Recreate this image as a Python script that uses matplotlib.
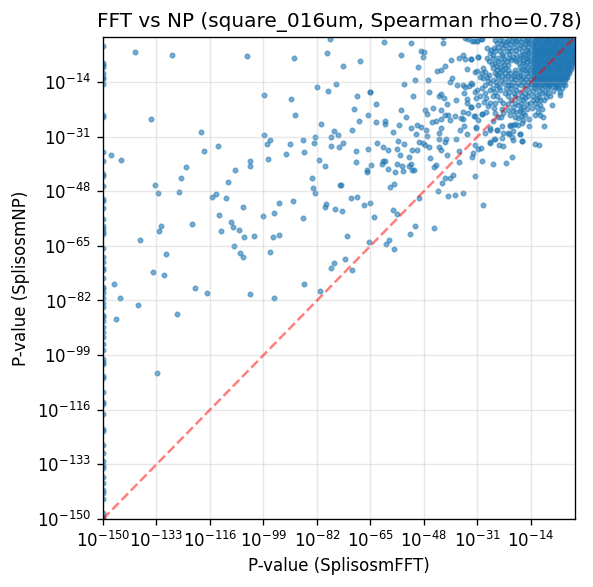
import matplotlib
matplotlib.use("Agg")
import matplotlib.pyplot as plt
from matplotlib.ticker import NullLocator

title = "FFT vs NP (square_016um, Spearman rho=0.78)"
x_label = "P-value (SplisosmFFT)"
y_label = "P-value (SplisosmNP)"
tick_exponents = [-150, -133, -116, -99, -82, -65, -48, -31, -14]
floor_exponent = -150

# Genes with FFT p-value at the floor: log10 NP p-values
floor_np = [-2.9,-8.2,-8.8,-9.4,-11.3,-12.5,-13.2,-14.7,-24.4,-25,-35.9,-38.7,-42.7,-43.3,-46.5,-50.5,-51.1,-53.3,
    -56.7,-58.9,-59.8,-60.8,-61.4,-65.7,-68.5,-70.1,-72,-72.6,-75.1,-77.9,-78.5,-79.8,-81.3,-82.9,-84.1,-86.6,-87.2,
    -88.5,-90.1,-91.9,-93.5,-95.6,-97.5,-100.3,-101.2,-101.9,-105.6,-106.2,-110.6,-113.7,-114.3,-117.4,-122.1,-122.7,
    -127.1,-129.6,-132,-133.3,-134.2,-137,-138.9,-141,-142,-143.9,-148.2,-149.5,-150]

# (log10 FFT p, log10 NP p) - sparse part of the cloud
sparse_left = [(-139.7,-4.8),(-128,-5.7),(-104.1,-6),(-89.2,-6.6),(-77.8,-.7),(-78.7,-5.1),(-81.9,-15.6),(-78.4,-16.9),
    (-75.8,-14.7),(-98.7,-18.1),(-90.1,-19.4),(-88.9,-24.4),(-134.6,-25.6),(-80.6,-27.2),(-76.5,-29.3),(-118.7,-29.6),
    (-98.7,-30.6),(-75.3,-30.6),(-77.4,-31.2),(-82.5,-31.2),(-96.8,-32.1),(-86.3,-32.1),(-97.8,-33.4),(-90.5,-33.4),
    (-82.8,-33.1),(-113.3,-34),(-77.4,-34),(-74.9,-34.3),(-117.8,-35.6),(-86,-35.9),(-92,-36.5),(-147.4,-36.8),
    (-144.2,-38.4),(-97.5,-38),(-81.2,-38.4),(-103.2,-38.7),(-103.2,-40),(-79.3,-40.2),(-123.5,-40.5),(-108,-41.5),
    (-125.1,-44),(-83.5,-44),(-110.2,-45.2),(-133.4,-46.1),(-83.2,-47.1),(-74.7,-46.1),(-132.4,-48.6),(-125.7,-48.3),
    (-82.5,-48.6),(-114,-49),(-115.3,-49.9),(-110.8,-50.2),(-89.5,-51.1),(-94,-51.7),(-79,-52),(-79.3,-53),(-105.4,-53),
    (-76.2,-53.6),(-95.6,-54.9),(-113,-55.5),(-99,-55.8),(-86.3,-56.4),(-109.2,-57.7),(-121.6,-58.3),(-131.5,-58.9),
    (-108.6,-59.2),(-106.7,-60.1),(-132.1,-60.4),(-112.4,-60.4),(-94,-61.7),(-101.9,-62),(-105.1,-62.3),(-95.9,-62.3),
    (-138.1,-63.3),(-108.3,-65.1),(-129.9,-67.6),(-106.4,-67.3),(-96.8,-67),(-105.4,-68.5),(-76.5,-70.4),(-77.4,-72),
    (-134,-73.2),(-130.5,-74.1),(-146.4,-77),(-120.7,-78.2),(-116.9,-79.8),(-86,-77),(-103.2,-80.1),(-144.5,-81.3),
    (-95.6,-81.3),(-80.9,-79.1),(-138.8,-83.5),(-126.4,-86.3),(-145.8,-87.9),(-132.7,-104.7)]

sparse_mid = [(-60.6,-1.6),(-52,-2),(-41.9,-.1),(-41.9,-2),(-34.9,-.4),(-33.9,-.7),(-32,-1.3),(-31.1,-1.3),(-29.8,-.7),
    (-55.2,-5.7),(-48.9,-4.4),(-47.9,-4.8),(-48.2,-6.3),(-68.2,-7.5),(-73.6,-9.1),(-49.8,-9.4),(-39.3,-7.2),(-36.8,-6.6),
    (-35.5,-5.7),(-34.9,-6.9),(-33,-6.9),(-30.7,-6.3),(-41.2,-9.1),(-42.5,-10.4),(-43.8,-10.7),(-34.2,-10),(-31.7,-11),
    (-50.8,-13.5),(-46.6,-13.5),(-54.3,-14.7),(-39,-12.8),(-39.6,-14.1),(-37.4,-15),(-35.5,-15),(-33.6,-15.3),(-32.6,-14.7),
    (-34.9,-15.6),(-35.2,-17.5),(-46.3,-17.2),(-65.1,-17),(-65.3,-17.2),(-69.2,-18.4),(-51.4,-18.4),(-43.1,-18.4),(-42.5,-17.8),
    (-41.5,-19.1),(-40.6,-21),(-37.7,-19.7),(-34.2,-19.4),(-34.2,-20.6),(-63.2,-21),(-70.1,-22.5),(-55.2,-22.8),(-47.6,-22.8),
    (-45,-22.2),(-42.5,-22.8),(-46.9,-24),(-65.7,-24.4),(-53.6,-25),(-41.2,-24.4),(-40.3,-24.4),(-38,-24.7),(-35.5,-23.4),
    (-33.9,-23.7),(-33,-21.9),(-32,-24.7),(-29.5,-24),(-68.6,-26.2),(-63.2,-26.5),(-60.3,-26.2),(-60.3,-27.2),(-55.8,-27.5),
    (-50.1,-27.5),(-48.9,-28.1),(-52,-28.4),(-45.4,-26.5),(-44.1,-26.2),(-42.5,-25.6),(-39.6,-25.9),(-36.1,-25.3),(-35.5,-25.6),
    (-70.8,-29),(-57.8,-29.6),(-47.3,-29),(-42.5,-28.4),(-43.1,-30),(-50.4,-30.3),(-46.9,-30.9),(-36.5,-29),(-35.2,-27.8),
    (-31.4,-28.1),(-34.2,-30.3),(-28.5,-30),(-43.1,-31.8),(-40.9,-31.8),(-41.2,-32.8),(-37.7,-31.8),(-56.2,-32.4),(-54.3,-33.4),
    (-62.8,-33.1),(-73.6,-33.1),(-49.5,-32.8),(-48.2,-33.1),(-47.6,-33.7),(-46.3,-34.3),(-43.1,-34.3),(-42.5,-35.2),(-60.9,-34.3),
    (-65.7,-34.9),(-69.5,-35.6),(-59.3,-35.2),(-56.5,-34.9),(-51.7,-35.2),(-50.1,-35.2),(-31.7,-33.7),(-29.8,-34.6),(-30.7,-34.9),
    (-36.8,-35.6),(-40.6,-36.8),(-32.3,-36.2),(-55.5,-36.8),(-52.7,-37.4),(-46,-37.7),(-32.6,-37.4),(-69.5,-39),(-60.9,-38.7),
    (-61.2,-39.6),(-60.3,-38.7),(-64.7,-39.9),(-56.5,-39.6),(-54.9,-40.2),(-52,-39.6),(-52.7,-40.2),(-36.8,-39),(-29.5,-38.7),
    (-26,-39.6),(-21.8,-39.3),(-19.9,-37.4),(-59.3,-41.2),(-57.1,-42.1),(-66,-41.5),(-66,-42.1),(-54.6,-41.8),(-51.7,-41.5),
    (-51.1,-41.5),(-44.1,-39.9),(-44.7,-40.5),(-38.7,-43),(-39.6,-44),(-41.2,-44),(-31.7,-43.3),(-42.2,-45.5),(-57.4,-45.8),
    (-58.7,-46.8),(-74.3,-46.1),(-43.5,-48),(-35.5,-48.6),(-38,-49.3),(-40.3,-49.6),(-69.2,-49.9),(-71.1,-50.2),(-49.5,-50.2),
    (-65.1,-51.7),(-67,-52.4),(-29.2,-52.4),(-57.8,-53.9),(-74,-54.2),(-56.5,-55.2),(-63.8,-56.1),(-50.8,-58.9),(-44.7,-59.5),
    (-52.4,-61.4),(-72.4,-62),(-59,-63.3),(-65.4,-63.9),(-60,-64.5),(-57.4,-66),(-73,-69.2),(-70.8,-72.6),
    (-12.6,-33.4),(-11.4,-33.7),(-9.8,-27.8),(-14.5,-27.8),(-17,-32.4),(-17.4,-30.3),(-19.9,-31.2),(-25.7,-31.8),(-26.9,-33.1),
    (-24.1,-33.7),(-22.8,-34),(-23.1,-31.5),(-21.2,-30),(-23.1,-27.8),(-24.7,-29),(-26.9,-28.4),(-19.6,-27.5),(-18,-27.5),(-20.6,-27.8)]

# Semi-dense halo around the main block
halo = [(-32.6,-1.1),(-31.1,-1.2),(-29.7,-.7),(-25.5,-.8),(-23.9,-.8),(-22.8,-1.1),(-21.2,-.8),(-19.6,-.4),(-18,-.6),(-16.5,-.6),(-14.9,-.6),
    (-27.9,-3.5),(-25.8,-3.5),(-24.4,-3),(-22.3,-2.5),(-20.7,-2.3),(-19.1,-2),(-17.5,-2.5),(-15.9,-2.3),(-14.5,-2),
    (-27,-5),(-25.5,-4.5),(-23.9,-4.3),(-21.7,-4.5),(-20.2,-4.3),(-18.6,-4),(-17,-4.5),(-15.4,-4),
    (-32.9,-6.8),(-30.8,-6.1),(-28.1,-6.6),(-26,-6.4),(-24.4,-6.6),(-22.8,-5.8),(-19.6,-6.1),(-17.5,-5.8),(-15.9,-5.6),(-14.5,-5.1),
    (-26.5,-8.5),(-25.5,-8.2),(-23.3,-7.9),(-21.7,-7.4),(-20.2,-7.1),(-18.6,-7.4),(-16.5,-7.1),(-14.9,-6.8),
    (-29.2,-9.7),(-26,-9.7),(-23.9,-9.2),(-22.3,-9.5),(-17.5,-9.2),(-15.9,-8.7),(-14.3,-8.5),(-21.2,-8.7),
    (-31.3,-10.6),(-28.6,-11),(-29.7,-11.3),(-25.5,-11.3),(-23.9,-11),(-22.3,-11.3),(-20.7,-11.3),(-19.1,-11.3),(-17.5,-10.8),(-15.9,-10.3),(-14.3,-10.3),
    (-29.2,-12.9),(-28.1,-12.3),(-26,-13.4),(-24.4,-12.6),(-22.3,-12.9),(-20.2,-12.9),(-18,-12.6),(-16.5,-12.3),(-14.9,-12),
    (-32.9,-14.4),(-28.6,-15),(-27,-14.4),(-24.9,-15),(-22.8,-14.4),(-21.2,-15),(-19.6,-14.1),(-18,-14.4),(-16.5,-13.9),(-14.9,-13.9),
    (-31.3,-16.5),(-31.8,-17),(-28.6,-17.5),(-27,-16.5),(-25.5,-17),(-23.9,-16.5),(-22.3,-17.5),(-20.2,-16),(-18.6,-16.5),(-15.9,-16),(-14.3,-15.7),
    (-12.7,-16),(-10.6,-16),(-8.5,-16),(-5.3,-16),(-3.2,-14.9),
    (-31.5,-19),(-30.2,-18.5),(-28.3,-19),(-26,-18.5),(-23.9,-19.6),(-20.2,-19.6),(-18,-19),(-16.5,-19.6),(-14.9,-18.5),(-12.2,-18),(-10.6,-17.5),
    (-8,-18.5),(-4.8,-18.2),(-8.5,-17.5),(-4.8,-17),
    (-33.1,-21.7),(-30.8,-21.1),(-27.6,-21.4),(-27,-20.6),(-22.8,-20.6),(-23.3,-22.4),(-19.6,-21.7),(-18,-21.1),(-16.5,-21.7),(-14.3,-20.6),(-12.7,-20.6),
    (-11.1,-21.1),(-7.4,-21.1),(-12.2,-19.6),
    (-31.8,-24.5),(-29.4,-24.1),(-24.4,-24.8),(-22.8,-23.7),(-18.6,-23.2),(-17.5,-23),(-16.5,-23.7),(-18,-25.3),(-15.9,-24.3),(-12.7,-24.3),(-11.1,-24.3),
    (-10.3,-24.8),(-11.7,-23.2),
    (-30.8,-25.8),(-26,-26.1),(-20.7,-27.4),(-19.1,-27.2),(-17,-26.9),(-31.5,-28.2),(-27,-29),(-24.9,-29),(-22.8,-30),(-20.9,-30.2),(-19.6,-29.4),(-17.5,-30.3),
    (-25.5,-31.7),(-27,-32.8),(-19.8,-32),(-17,-32.4)]

# Extra overlap where the halo is nearly solid
halo_dense = [(-24.7,-1.9),(-23.2,-2.1),(-21.5,-1.6),(-20,-1.2),(-18.7,-1.3),(-17.2,-1.5),(-15.7,-1.3),(-14.6,-1.1),
    (-26.6,-4),(-23,-3.5),(-21,-3.3),(-19.4,-3.1),(-17.9,-3.4),(-16.3,-3.1),(-14.8,-3),(-26.2,-5.6),(-23.2,-5.2),(-21,-5.4),(-18.9,-5.2),(-16.6,-5.3),(-15,-4.6),
    (-27.2,-7.6),(-24.6,-7.6),(-22.7,-7),(-21,-6.6),(-19,-6.7),(-17.6,-6.6),(-15.7,-6.4),(-14.2,-6.2),(-24.8,-8.9),(-22.6,-8.6),(-17.7,-8.2),(-16.6,-8.1),(-15.2,-7.7),(-14,-7.4),
    (-24.7,-10.2),(-23.1,-10.3),(-21.4,-10.2),(-19,-10.2),(-16.9,-9.9),(-15.2,-9.5),(-13.8,-9.3),(-27.2,-11.9),(-24.8,-11.8),(-23.2,-12.1),(-21.4,-12),(-19.4,-12.1),(-17.4,-11.7),(-15.7,-11.2),(-14.4,-11.2),
    (-30.3,-12.4),(-27.6,-13.6),(-25.2,-14),(-23.5,-13.7),(-21.4,-13.9),(-19,-13.2),(-17.2,-13.1),(-15.6,-13),(-14.1,-13),
    (-29.5,-16),(-26.2,-15.8),(-24.2,-15.7),(-22,-15.9),(-20.4,-15),(-18.9,-15.3),(-17.2,-15),(-15.5,-14.9),(-14,-14.7),
    (-21.1,-17),(-19.4,-17.4),(-17.6,-17.2),(-16,-17.4),(-14.7,-17),(-13.2,-16.9),(-11.5,-16.9),(-9.6,-17),(-7,-16.8),(-6,-15.6),(-4.2,-15.8),
    (-24.9,-18.3),(-21.3,-18.5),(-19.2,-18.4),(-17,-18.4),(-15.8,-18.9),(-13.5,-18.3),(-11.4,-18.6),(-9.2,-18.8),
    (-29,-20.2),(-25.4,-20.5),(-21.2,-20.7),(-19.1,-20.4),(-17.2,-20.4),(-15.4,-20.8),(-13.4,-19.7),(-11,-19.7),(-9.8,-19.6),
    (-25.6,-22),(-21.4,-22.6),(-19.6,-23),(-17.2,-22.4),(-15.1,-22.4),(-13.6,-22),(-12.2,-21.7),(-10.4,-22.3),
    (-28.2,-23.2),(-25.3,-23.6),(-23.6,-25),(-20.8,-24.4),(-19.2,-24.8),(-17.2,-24.6),(-14.7,-25.4),(-16.4,-25.9)]

# Saturated block near p = 1: each row is (log10 NP p, [log10 FFT p ...])
block_rows = [
    (-0.4,[-13.4,-12.2,-11,-9.9,-8.7,-7.5,-6.4,-5.2,-4,-2.9,-1.7,-.6]),
    (-1,[-12.6,-11.3,-10,-9,-7.8,-6.6,-5.6,-4.4,-3.2,-2,-.9]),
    (-1.5,[-12.9,-11.7,-10.6,-9.3,-8.2,-7,-5.9,-4.7,-3.5,-2.3,-1.2,-.2]),
    (-2.1,[-13.6,-12.3,-11.1,-9.9,-8.8,-7.6,-6.4,-5.3,-4.1,-2.9,-1.8,-.6]),
    (-2.7,[-13.2,-12,-10.9,-9.7,-8.6,-7.4,-6.2,-5,-3.9,-2.7,-1.5,-.5]),
    (-3.3,[-13.6,-12.4,-11.2,-10.1,-8.9,-7.7,-6.6,-5.4,-4.2,-3.1,-1.9,-.8]),
    (-3.9,[-12.7,-11.5,-10.4,-9.2,-8,-6.9,-5.7,-4.5,-3.3,-2.2,-1,-.1]),
    (-4.5,[-13.4,-12.2,-11.1,-9.9,-8.7,-7.6,-6.4,-5.2,-4.1,-2.9,-1.7,-.6]),
    (-5.1,[-13,-11.9,-10.7,-9.5,-8.4,-7.2,-6,-4.9,-3.7,-2.5,-1.4,-.3]),
    (-5.7,[-13.5,-12.3,-11.1,-9.9,-8.8,-7.6,-6.4,-5.3,-4.1,-2.9,-1.8,-.7]),
    (-6.3,[-12.6,-11.4,-10.2,-9,-7.9,-6.7,-5.5,-4.4,-3.2,-2,-.9,-.1]),
    (-6.9,[-13.3,-12.1,-11,-9.8,-8.6,-7.5,-6.3,-5.1,-4,-2.8,-1.6,-.5]),
    (-7.5,[-13.1,-11.8,-10.6,-9.4,-8.3,-7.1,-5.9,-4.8,-3.6,-2.4,-1.3,-.4]),
    (-8.1,[-13.5,-12.2,-11.2,-10,-8.8,-7.7,-6.5,-5.3,-4.2,-3,-1.8,-.8]),
    (-8.7,[-12.5,-11.3,-10.1,-8.9,-7.8,-6.6,-5.4,-4.3,-3.1,-1.9,-.8]),
    (-9.3,[-13.2,-12,-10.8,-9.6,-8.5,-7.3,-6.1,-5,-3.8,-2.6,-1.4]),
    (-9.9,[-13,-11.7,-10.5,-9.3,-8.2,-7,-5.8,-4.7,-3.5,-2.3,-1.2]),
    (-10.5,[-13.4,-12.2,-11,-9.9,-8.7,-7.5,-6.4,-5.2,-4,-2.9,-1.8]),
    (-11.1,[-12.6,-11.2,-10,-8.8,-7.7,-6.5,-5.3,-4.2,-3,-1.8]),
    (-11.7,[-13.2,-12,-10.7,-9.5,-8.3,-7.2,-6,-4.8,-3.7,-2.5]),
    (-12.3,[-13,-11.6,-10.4,-9.2,-8.1,-6.9,-5.7,-4.6,-3.4,-2.4]),
    (-12.9,[-13.4,-12.1,-11,-9.8,-8.6,-7.4,-6.2,-5.1,-3.9,-2.9]),
    (-13.4,[-12.8,-11.3,-10.1,-8.9,-7.7,-6.6,-5.4,-4.3,-3.1]),
    (-14,[-13.2,-12,-10.7,-9.5,-8.2,-7.1,-5.9,-4.8,-3.6]),
    (-14.5,[-13.1,-11.7,-10.2,-9,-7.9,-6.3,-5,-3.7]),
    (-15.1,[-12.4,-11,-9.6,-8.3,-7,-5.7]),
]

fft = [floor_exponent] * len(floor_np)
np_vals = list(floor_np)
for group in (sparse_left, sparse_mid, halo, halo_dense):
    for fx, ny in group:
        fft.append(fx)
        np_vals.append(ny)
for ny, fxs in block_rows:
    for fx in fxs:
        fft.append(fx)
        np_vals.append(ny)

fig = plt.figure(figsize=(593 / 120, 587 / 120), dpi=120)
ax = fig.add_axes([103 / 593, 1 - 519 / 587, 472 / 593, 482 / 587])
ax.scatter([10.0 ** v for v in fft], [10.0 ** v for v in np_vals], s=7, alpha=0.55, color="C0")
ax.plot([1e-150, 1], [1e-150, 1], color="red", linestyle="--", alpha=0.5, linewidth=1.5)
ax.set_xscale("log")
ax.set_yscale("log")
ax.set_xlim(1e-150, 1)
ax.set_ylim(1e-150, 1)
ticks = [10.0 ** e for e in tick_exponents]
ax.set_xticks(ticks)
ax.set_yticks(ticks)
ax.xaxis.set_minor_locator(NullLocator())
ax.yaxis.set_minor_locator(NullLocator())
ax.grid(True, alpha=0.3)
ax.set_xlabel(x_label)
ax.set_ylabel(y_label)
ax.set_title(title, fontsize=12)
fig.savefig("out.png", dpi=120)
